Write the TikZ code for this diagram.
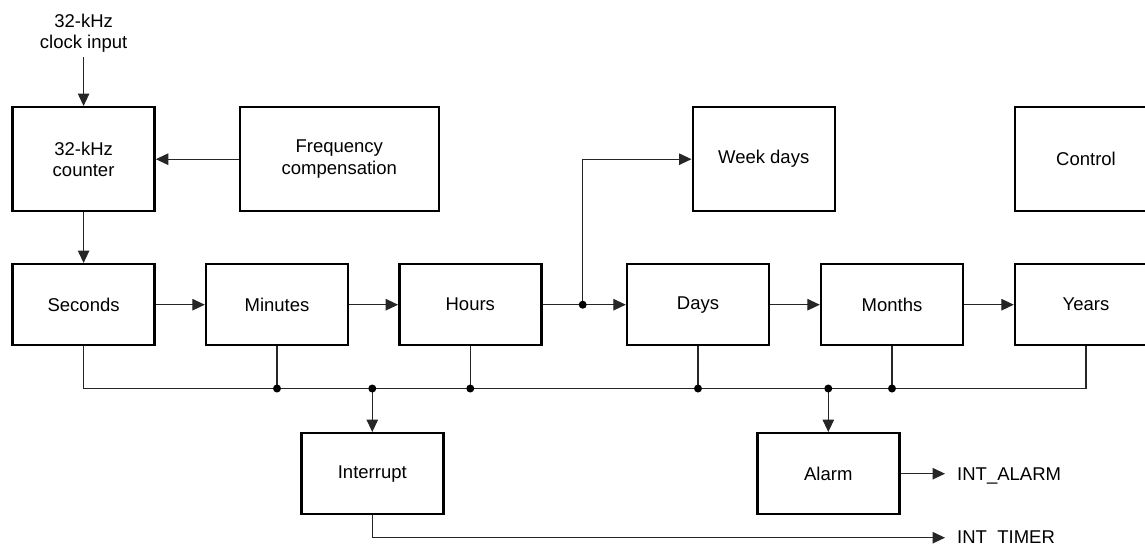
\documentclass[tikz,border=0pt]{standalone}
\usepackage{fontspec}
\setmainfont{Liberation Sans}
\usetikzlibrary{arrows.meta}
\begin{document}
\begin{tikzpicture}[x=1pt,y=-1pt,
  box/.style={draw=black, line width=2.4pt, minimum width=142pt, minimum height=81pt, inner sep=0pt, align=center, font=\fontsize{18.5}{21.5}\selectfont},
  tall/.style={minimum height=104pt},
  widebox/.style={minimum width=199pt},
  wire/.style={draw=black!85, line width=1.2pt},
  arr/.style={wire, -{Triangle[length=12.5pt,width=11.5pt]}},
  lbl/.style={font=\fontsize{18.5}{21.5}\selectfont, inner sep=0pt, align=center},
  jdot/.style={fill=black}]
\useasboundingbox (0,0) rectangle (1145,544);
\clip (0,0) rectangle (1145,544);
% top row
\node[lbl] (clk) at (83.6,33) {32-kHz\\clock input};
\coordinate (clkin) at (83.6,57.3);
\node[box,tall] (cnt) at (83.6,159.2) {32-kHz\\counter};
\node[box,tall,widebox] (frq) at (339.3,159.2) {Frequency\\compensation};
\node[box,tall] (wk) at (763.7,159.2) {Week days};
\node[box,tall] (ctl) at (1086,159.2) {Control};
% middle row
\node[box] (sec) at (83.6,304.7) {Seconds};
\node[box] (min) at (277,304.7) {Minutes};
\node[box] (hrs) at (470.3,304.7) {Hours};
\node[box] (day) at (698,304.7) {Days};
\node[box] (mon) at (892,304.7) {Months};
\node[box] (yrs) at (1086,304.7) {Years};
% bottom row
\node[box] (int) at (372.3,473.7) {Interrupt};
\node[box] (alm) at (828.3,473.7) {Alarm};
\node[lbl, anchor=base west] (ia) at (957,480.5) {INT\_ALARM};
\node[lbl, anchor=base west] (it) at (957,543.6) {INT\_TIMER};
\coordinate (oa) at (945,473.7);
\coordinate (ot) at (945,537.7);
% connectors top
\draw[arr] (clkin) -- (cnt.north);
\draw[arr] (frq.west) -- (cnt.east);
\draw[arr] (cnt.south) -- (sec.north);
% chain
\draw[arr] (sec.east) -- (min.west);
\draw[arr] (min.east) -- (hrs.west);
\coordinate (j0) at (582.7,304.7);
\draw[wire] (hrs.east) -- (j0);
\draw[arr] (j0) -- (day.west);
\draw[arr] (j0) |- (wk.west);
\draw[arr] (day.east) -- (mon.west);
\draw[arr] (mon.east) -- (yrs.west);
% bus
\coordinate (busL) at (83.6,388.5);
\coordinate (busR) at (1086,388.5);
\draw[wire] (sec.south) -- (busL) -- (busR) -- (yrs.south);
\coordinate (jm) at (min.south |- busL);
\coordinate (jh) at (hrs.south |- busL);
\coordinate (jd) at (day.south |- busL);
\coordinate (jmo) at (mon.south |- busL);
\coordinate (ji) at (int.north |- busL);
\coordinate (ja) at (alm.north |- busL);
\draw[wire] (min.south) -- (jm);
\draw[wire] (hrs.south) -- (jh);
\draw[wire] (day.south) -- (jd);
\draw[wire] (mon.south) -- (jmo);
\draw[arr] (ji) -- (int.north);
\draw[arr] (ja) -- (alm.north);
% outputs
\draw[arr] (alm.east) -- (oa);
\draw[arr] (int.south) |- (ot);
% junction dots
\foreach \j in {j0,jm,jh,jd,jmo,ji,ja} \fill[jdot] (\j) circle (4pt);
\end{tikzpicture}
\end{document}
